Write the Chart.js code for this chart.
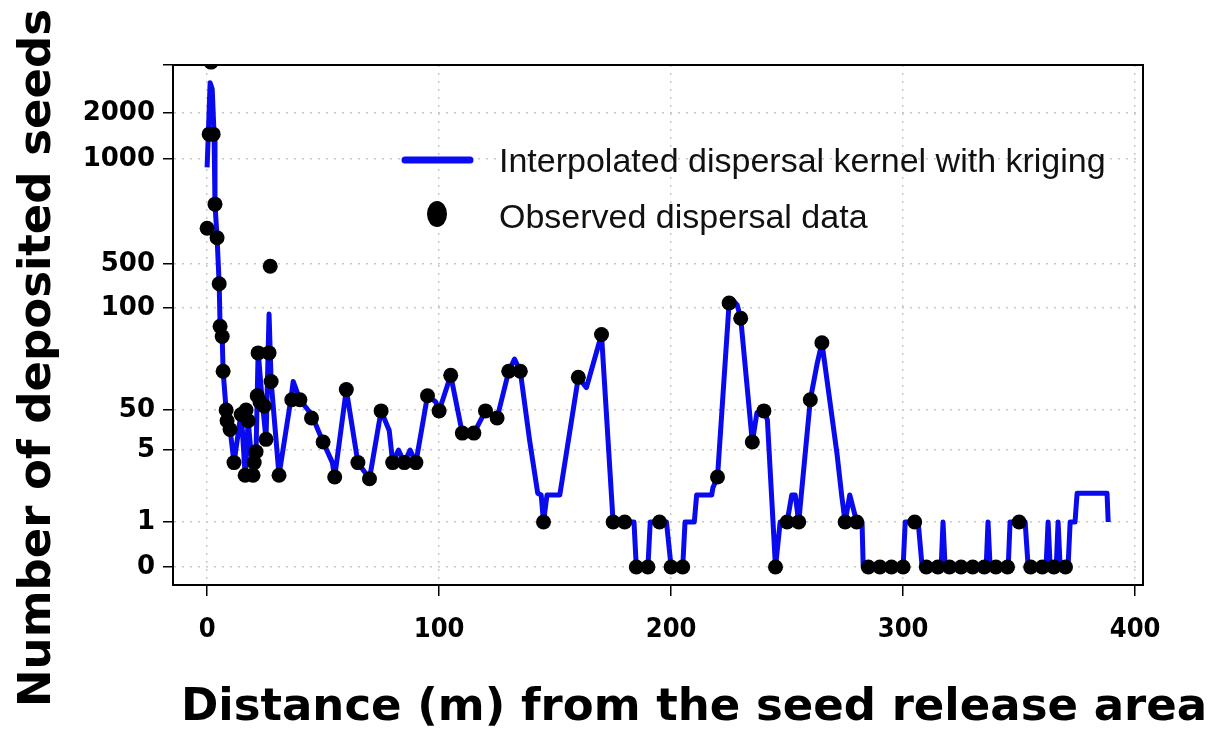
<!DOCTYPE html>
<html>
<head>
<meta charset="utf-8">
<script src="https://cdn.jsdelivr.net/npm/chart.js@4.4.1/dist/chart.umd.min.js"></script>
<style>
html, body { margin: 0; padding: 0; background: #fff; }
canvas { display: block; }
</style>
</head>
<body>
<canvas id="myChart" width="1213" height="729"></canvas>
<script>
// tick labels
var xTicks = [0, 100, 200, 300, 400]
var yTicks = [0, 1, 5, 50, 100, 500, 1000, 2000]

// observed dispersal data (distance in m, number of seeds)
var obsX = [0, 0.9, 1.7, 2.6, 3.4, 4.3, 5.2, 5.6, 6.5, 6.9,
	8.2, 8.6, 9.9, 11.6, 14.7, 16.4, 16.8, 17.7, 19.8, 20.3,
	21.1, 21.6, 22.0, 22.8, 24.6, 25.4, 26.7, 27.2, 27.6, 31.0,
	36.5, 40, 45, 50, 55, 60, 65, 70, 75, 80,
	85, 90, 95, 100, 105, 110, 115, 120, 125, 130,
	135, 145, 160, 170, 175, 180, 185, 190, 195, 200,
	205, 220, 225, 230, 235, 240, 245, 250, 255, 260,
	265, 275, 280, 285, 290, 295, 300, 305, 310, 315,
	320, 325, 330, 335, 340, 345, 350, 355, 360, 365,
	370]
var obsY = [670, 1540, 3060, 1540, 785, 625, 320, 91, 86, 69,
	50, 38, 28, 4.3, 45, 3.6, 50, 38, 3.6, 4.3,
	4.9, 57, 78, 54, 52, 17, 78, 480, 64, 3.6,
	55, 55, 41, 14, 3.5, 60, 4.3, 3.4, 49, 4.3,
	4.3, 4.3, 57, 49, 67, 24, 24, 49, 41, 69,
	69, 1, 66, 87, 1, 1, 0, 0, 1, 0,
	0, 3.5, 145, 95, 14, 49, 0, 1, 1, 55,
	83, 1, 1, 0, 0, 0, 0, 1, 0, 0,
	0, 0, 0, 0, 0, 0, 1, 0, 0, 0,
	0]

// interpolated kernel (kriging), vertices of the blue curve
var kernelX = [0, 1.3, 2.2, 3.0, 3.4, 4.3, 5.2, 5.6, 6.5, 6.9,
	8.2, 8.6, 9.9, 11.6, 14.7, 16.4, 17.7, 19.8, 21.1, 22.0,
	23.7, 25.4, 26.7, 27.6, 31.0, 36.2, 37.1, 40, 45, 50,
	54, 55, 60, 65, 70, 75, 78.5, 80, 82.5, 85,
	87.5, 90, 95, 98.5, 100, 105, 110, 115, 120, 125,
	130, 132.5, 135, 139, 142.5, 144, 145, 146.5, 152, 153,
	160, 163.5, 170, 175, 184, 185, 190, 191, 198, 200,
	205, 206, 210, 211, 217.5, 218, 220, 225, 226.5, 228.5,
	230, 235, 237, 240, 241.5, 245, 247, 250, 252, 253.5,
	255, 260, 263, 265, 271.5, 273.5, 275, 277, 280, 282.3,
	282.8, 300, 300.9, 306.5, 308.2, 316.4, 317.2, 318.1, 335.8, 336.6,
	337.5, 345.3, 346.1, 352.6, 353.9, 361.6, 362.5, 363.4, 366, 366.8,
	367.7, 371.1, 372, 374.1, 375, 387.9, 388.4]
var kernelY = [960, 2630, 2500, 1540, 785, 625, 320, 91, 86, 69,
	50, 38, 28, 4.3, 48, 3.6, 38, 3.6, 4.9, 79,
	55, 17, 97, 64, 3.6, 56, 64, 55, 45, 14,
	4.3, 3.5, 60, 4.3, 3.4, 49, 27, 4.3, 5, 4.3,
	5, 4.3, 57, 54, 49, 67, 24, 24, 49, 41,
	69, 75, 69, 16, 2.6, 2.5, 1, 2.5, 2.5, 3.3,
	66, 61, 87, 1, 1, 0, 0, 1, 1, 0,
	0, 1, 1, 2.5, 2.5, 2.9, 3.5, 145, 173, 127,
	95, 14, 47, 49, 39, 0, 1, 1, 2.5, 2.5,
	1, 55, 73, 83, 4.8, 2.5, 1, 2.5, 1, 1,
	0, 0, 1, 1, 0, 0, 1, 0, 0, 1,
	0, 0, 1, 1, 0, 0, 1, 0, 0, 1,
	0, 0, 1, 1, 2.6, 2.6, 1]

// the y axis of the figure is neither linear nor log: each labelled value has its own height
var yKnotValue = [-0.4, 0, 1, 5, 50, 100, 500, 1000, 2000, 3000]
var yKnotPos = [0, 0.0346, 0.1212, 0.2596, 0.3365, 0.5327, 0.6173, 0.8192, 0.9077, 1]

class KnotScale extends Chart.LinearScale {
	getPixelForValue(value) {
		var i = 1
		while (i < yKnotValue.length - 1 && value > yKnotValue[i]) i++
		var t = (value - yKnotValue[i - 1]) / (yKnotValue[i] - yKnotValue[i - 1])
		return this.getPixelForDecimal(yKnotPos[i - 1] + t * (yKnotPos[i] - yKnotPos[i - 1]))
	}
	getValueForPixel(pixel) {
		var d = this.getDecimalForPixel(pixel)
		var i = 1
		while (i < yKnotPos.length - 1 && d > yKnotPos[i]) i++
		var t = (d - yKnotPos[i - 1]) / (yKnotPos[i] - yKnotPos[i - 1])
		return yKnotValue[i - 1] + t * (yKnotValue[i] - yKnotValue[i - 1])
	}
}
KnotScale.id = 'knot'
KnotScale.defaults = {}
Chart.register(KnotScale)

function points(xs, ys) {
	return xs.map(function (x, i) { return { x: x, y: ys[i] } })
}

var boxAndText = {
	id: 'boxAndText',
	afterDraw: function (chart) {
		var c = chart.ctx
		var a = chart.chartArea
		c.save()
		// frame around the plot
		c.strokeStyle = '#000'
		c.lineWidth = 2
		c.strokeRect(a.left, a.top, a.right - a.left, a.bottom - a.top)

		// legend inside the plot
		var ds = chart.data.datasets
		c.lineCap = 'round'
		c.strokeStyle = '#0a0af5'
		c.lineWidth = 7
		c.beginPath()
		c.moveTo(405, 160)
		c.lineTo(470, 160)
		c.stroke()
		c.fillStyle = '#000'
		c.beginPath()
		c.ellipse(437, 214, 10, 13, 0, 0, Math.PI * 2)
		c.fill()
		c.fillStyle = '#111'
		c.font = '34px "Liberation Sans", Arial, sans-serif'
		c.textAlign = 'left'
		c.textBaseline = 'alphabetic'
		c.fillText(ds[0].label, 499, 172)
		c.fillText(ds[1].label, 499, 228)

		// axis titles
		c.fillStyle = '#000'
		c.font = 'bold 45px "DejaVu Sans", sans-serif'
		c.textAlign = 'center'
		c.fillText('Distance (m) from the seed release area', 694, 720)
		c.translate(50, 358)
		c.rotate(-Math.PI / 2)
		c.fillText('Number of deposited seeds', 0, 0)
		c.restore()
	}
}

var ctx = document.getElementById('myChart')
var myChart = new Chart(ctx, {
	type: 'line',
	data: {
		datasets: [{
			label: 'Interpolated dispersal kernel with kriging',
			data: points(kernelX, kernelY),
			borderColor: '#0a0aee',
			borderWidth: 5,
			borderJoinStyle: 'round',
			pointRadius: 0,
			tension: 0,
			fill: false,
			order: 2,
		}, {
			type: 'scatter',
			label: 'Observed dispersal data',
			data: points(obsX, obsY),
			backgroundColor: '#000',
			borderColor: '#000',
			borderWidth: 0,
			pointRadius: 7.5,
			clip: 0,
			order: 1,
		}]
	},
	options: {
		responsive: false,
		animation: false,
		layout: { padding: { top: 65, right: 70, left: 0, bottom: 0 } },
		plugins: { legend: { display: false }, tooltip: { enabled: false } },
		scales: {
			x: {
				type: 'linear',
				min: -14.7,
				max: 403.4,
				afterBuildTicks: function (scale) {
					scale.ticks = xTicks.map(function (v) { return { value: v } })
				},
				afterFit: function (scale) { scale.height = 144 },
				grid: { color: '#c8c8c8', lineWidth: 1.5, tickColor: '#000', tickLength: 11, tickWidth: 1.5 },
				border: { color: '#000', width: 2, dash: [2, 6] },
				ticks: {
					autoSkip: false,
					maxRotation: 0,
					padding: 18,
					color: '#000',
					font: { family: '"DejaVu Sans Condensed", "DejaVu Sans", sans-serif', size: 27, weight: 'bold' },
					callback: function (v) { return String(v) }
				}
			},
			y: {
				type: 'knot',
				min: -0.4,
				max: 3000,
				afterBuildTicks: function (scale) {
					scale.ticks = yTicks.concat([3000]).map(function (v) { return { value: v } })
				},
				afterFit: function (scale) { scale.width = 173 },
				grid: { color: '#c8c8c8', lineWidth: 1.5, tickColor: '#000', tickLength: 10, tickWidth: 1.5 },
				border: { color: '#000', width: 2, dash: [2, 6] },
				ticks: {
					autoSkip: false,
					padding: 8,
					color: '#000',
					font: { family: '"DejaVu Sans", sans-serif', size: 26, weight: 'bold' },
					callback: function (v) { return yTicks.indexOf(v) >= 0 ? String(v) : '' }
				}
			}
		}
	},
	plugins: [boxAndText]
})
</script>
</body>
</html>
